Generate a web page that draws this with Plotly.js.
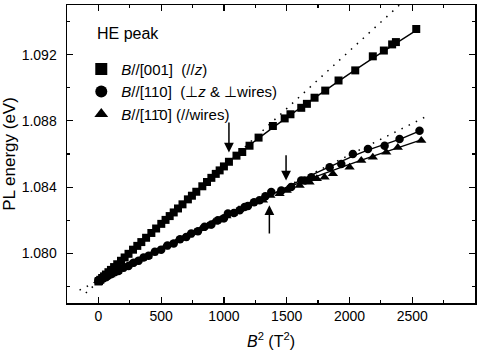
<!DOCTYPE html>
<html>
<head>
<meta charset="utf-8">
<script src="https://cdn.plot.ly/plotly-3.0.1.min.js"></script>
<style>html,body{margin:0;padding:0;background:#fff}#plot{width:482px;height:352px}</style>
</head>
<body>
<div id="plot"></div>
<script>
// B//[001] squares
const sqX = [0, 5, 15, 30, 45, 60, 80, 100, 125, 150, 180, 209, 240, 276, 310, 342, 380, 422, 460, 501, 535, 568, 600, 634, 670, 713, 745, 780, 828, 865, 900, 935, 966, 1000, 1040, 1100, 1146, 1204, 1276, 1390, 1484, 1530, 1616, 1661, 1722, 1807, 1913, 2046, 2186, 2274, 2340, 2370, 2532];
const sqY = [1.0783, 1.07833, 1.0784, 1.07851, 1.07861, 1.07872, 1.07886, 1.079, 1.07917, 1.07934, 1.07955, 1.07975, 1.07997, 1.08022, 1.08045, 1.08068, 1.08094, 1.08123, 1.0815, 1.08178, 1.08202, 1.08225, 1.08247, 1.08271, 1.08296, 1.08326, 1.08348, 1.08372, 1.08405, 1.08431, 1.08456, 1.0848, 1.08501, 1.08525, 1.08553, 1.0859, 1.08612, 1.0865, 1.08699, 1.08769, 1.08815, 1.0884, 1.08879, 1.08903, 1.0894, 1.08983, 1.09044, 1.09105, 1.0919, 1.09225, 1.09262, 1.09276, 1.09355];
// B//[110] circles
const ciX = [0, 10, 25, 40, 60, 80, 100, 130, 160, 200, 240, 280, 320, 360, 400, 450, 500, 550, 600, 650, 700, 740, 793, 846, 900, 952, 1000, 1032, 1080, 1125, 1165, 1191, 1240, 1284, 1330, 1377, 1457, 1536, 1616, 1643, 1696, 1842, 1935, 2027, 2147, 2280, 2399, 2558];
const ciY = [1.07835, 1.0784, 1.07845, 1.07852, 1.07856, 1.07867, 1.07873, 1.07886, 1.07894, 1.07913, 1.07924, 1.07943, 1.07955, 1.07975, 1.07985, 1.0801, 1.08022, 1.08047, 1.0806, 1.08085, 1.08098, 1.0812, 1.08133, 1.0816, 1.08174, 1.082, 1.08212, 1.0824, 1.08243, 1.0826, 1.0828, 1.08286, 1.08308, 1.0832, 1.08345, 1.0837, 1.0838, 1.0840, 1.0844, 1.0844, 1.0846, 1.0852, 1.0854, 1.086, 1.0863, 1.0865, 1.0869, 1.0874];
// B//[1-10] triangles
const trX = [0, 15, 35, 55, 75, 95, 120, 150, 180, 215, 255, 300, 345, 390, 435, 480, 530, 580, 630, 680, 720, 770, 820, 870, 920, 970, 1020, 1070, 1120, 1170, 1220, 1270, 1311, 1370, 1443, 1500, 1603, 1682, 1740, 1802, 1868, 2001, 2094, 2186, 2293, 2385, 2572];
const trY = [1.07835, 1.07838, 1.0785, 1.07854, 1.07866, 1.07869, 1.07883, 1.0789, 1.07905, 1.07915, 1.07934, 1.07947, 1.07968, 1.07981, 1.08002, 1.08015, 1.08038, 1.08053, 1.08076, 1.08091, 1.08111, 1.08126, 1.08149, 1.08164, 1.08187, 1.08202, 1.08225, 1.0824, 1.08263, 1.08278, 1.083, 1.08316, 1.0832, 1.0835, 1.0836, 1.0838, 1.0841, 1.0843, 1.0845, 1.0846, 1.0848, 1.0852, 1.0856, 1.0858, 1.0861, 1.0864, 1.08682];
// solid fit curves
const fitSqX = [0, 1040, 1250, 1500, 1800, 2100, 2560];
const fitSqY = [1.0783, 1.08553, 1.0868, 1.0882, 1.0898, 1.09135, 1.0936];
const fitCiX = [0, 1000, 1500, 1800, 2100, 2400, 2560];
const fitCiY = [1.07835, 1.08215, 1.084, 1.08508, 1.0861, 1.0869, 1.0874];
const fitTrX = [0, 1000, 1350, 1600, 1900, 2200, 2572];
const fitTrY = [1.07835, 1.08215, 1.08345, 1.08425, 1.0851, 1.0859, 1.08685];
// dotted linear extrapolations
const dotUpX = [-100, 2420];
const dotUpY = [1.0776, 1.09515];
const dotLoX = [-150, 2600];
const dotLoY = [1.07778, 1.08822];
// arrows [x, tailY, tipY]
const arrowX = [1040, 1495, 1362];
const arrowTail = [1.0880, 1.08601, 1.0811];
const arrowTip = [1.08609, 1.0844, 1.0829];

const FONT = '"Liberation Sans", Arial, Helvetica, sans-serif';
const NB = '\u00A0';
const mk = (sym, s) => ({symbol: sym, size: s, color: '#000', line: {width: 0}});
const traces = [
  {x: dotUpX, y: dotUpY, mode: 'lines', line: {color: '#000', width: 1.5, dash: '1.5px,6.5px'}, showlegend: false, hoverinfo: 'skip'},
  {x: dotLoX, y: dotLoY, mode: 'lines', line: {color: '#000', width: 1.5, dash: '1.5px,6.5px'}, showlegend: false, hoverinfo: 'skip'},
  {x: fitSqX, y: fitSqY, mode: 'lines', line: {color: '#000', width: 1.4, shape: 'spline'}, showlegend: false},
  {x: fitCiX, y: fitCiY, mode: 'lines', line: {color: '#000', width: 1.4, shape: 'spline'}, showlegend: false},
  {x: fitTrX, y: fitTrY, mode: 'lines', line: {color: '#000', width: 1.4, shape: 'spline'}, showlegend: false},
  {x: sqX, y: sqY, mode: 'markers', marker: mk('square', 8), name: '<i>B</i>//[001]' + NB + NB + '(//<i>z</i>)'},
  {x: ciX, y: ciY, mode: 'markers', marker: mk('circle', 8.5), name: '<i>B</i>//[110]' + NB + NB + '(\u22A5<i>z</i> & \u22A5wires)'},
  {x: trX, y: trY, mode: 'markers', marker: mk('triangle-up', 9), name: '<i>B</i>//[11\u03040]' + NB + '(//wires)'}
];
const annotations = [{
  xref: 'paper', yref: 'paper', x: 0.068, y: 0.905, xanchor: 'left', yanchor: 'middle',
  text: 'HE peak', showarrow: false, font: {family: FONT, size: 16, color: '#000'}
}];
for (let i = 0; i < arrowX.length; i++) {
  annotations.push({x: arrowX[i], y: arrowTip[i], ax: arrowX[i], ay: arrowTail[i], axref: 'x', ayref: 'y',
    xref: 'x', yref: 'y', text: '', showarrow: true, arrowhead: 2, arrowsize: 1.3, arrowwidth: 1.5, arrowcolor: '#000'});
}
const axisCommon = {
  showline: true, linecolor: '#000', linewidth: 1.5, mirror: 'ticks', ticks: 'inside', ticklen: 6, tickwidth: 1.2,
  tickcolor: '#000', showgrid: false, zeroline: false, tickfont: {family: FONT, size: 14, color: '#000'}
};
const layout = {
  width: 482, height: 352, margin: {l: 67, r: 7, t: 5, b: 49},
  paper_bgcolor: '#fff', plot_bgcolor: '#fff', font: {family: FONT, color: '#000'},
  xaxis: Object.assign({}, axisCommon, {range: [-250, 3000], dtick: 500, tick0: 0,
    minor: {dtick: 250, ticks: 'inside', ticklen: 3, tickcolor: '#000', tickwidth: 1.2},
    title: {text: '<i>B</i><sup>2</sup> (T<sup>2</sup>)', font: {family: FONT, size: 16}, standoff: 12}}),
  yaxis: Object.assign({}, axisCommon, {range: [1.077, 1.095], dtick: 0.004, tick0: 1.080, tickformat: '.3f',
    ticklabelstandoff: 6,
    minor: {dtick: 0.002, ticks: 'inside', ticklen: 3, tickcolor: '#000', tickwidth: 1.2},
    title: {text: 'PL energy (eV)', font: {family: FONT, size: 17}, standoff: 6}}),
  showlegend: true,
  legend: {x: 0.035, y: 0.84, xanchor: 'left', yanchor: 'top', bgcolor: 'rgba(0,0,0,0)', borderwidth: 0,
    font: {family: FONT, size: 15, color: '#000'}, tracegroupgap: 0, itemsizing: 'constant'},
  annotations: annotations
};
Plotly.newPlot('plot', traces, layout, {staticPlot: true});
</script>
</body>
</html>
